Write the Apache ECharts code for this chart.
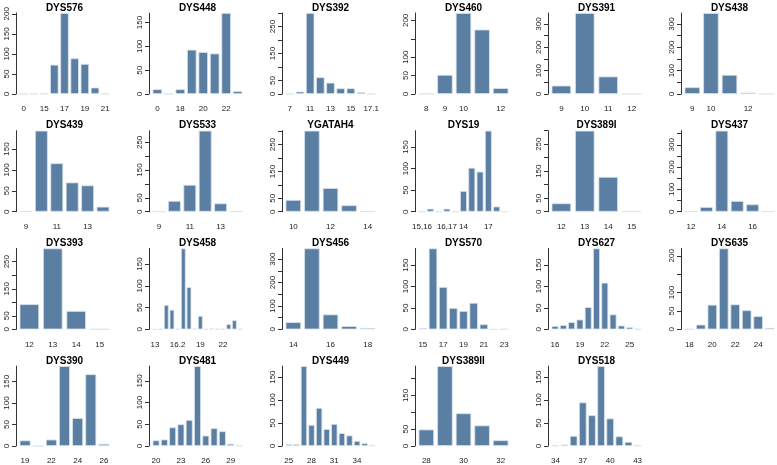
<!DOCTYPE html>
<html>
<head>
<meta charset="utf-8">
<script src="https://cdn.jsdelivr.net/npm/echarts@6/dist/echarts.min.js"></script>
<style>
html, body { margin: 0; background: #fff; }
#chart { width: 777px; height: 465px; }
</style>
</head>
<body>
<div id="chart"></div>
<script>
// marker names, one panel each (6 per row)
const markers = ['DYS576', 'DYS448', 'DYS392', 'DYS460', 'DYS391', 'DYS438',
  'DYS439', 'DYS533', 'YGATAH4', 'DYS19', 'DYS389I', 'DYS437',
  'DYS393', 'DYS458', 'DYS456', 'DYS570', 'DYS627', 'DYS635',
  'DYS390', 'DYS481', 'DYS449', 'DYS389II', 'DYS518'];

// alleles (bar names) per marker
const alleles = [
  ['0', '14', '15', '16', '17', '18', '19', '20', '21'],
  ['0', '17', '18', '19', '20', '21', '22', '23'],
  ['7', '10', '11', '12', '13', '14', '15', '16', '17.1'],
  ['8', '9', '10', '11', '12'],
  ['9', '10', '11', '12'],
  ['9', '10', '11', '12', '13'],
  ['9', '10', '11', '12', '13', '14'],
  ['9', '10', '11', '12', '13', '14'],
  ['10', '11', '12', '13', '14'],
  ['15,16', '13', '15,17', '16,17', '17,18', '14', '15', '16', '17', '18', '19'],
  ['12', '13', '14', '15'],
  ['12', '13', '14', '15', '16', '17'],
  ['12', '13', '14', '15'],
  ['13', '14', '15', '16', '16.2', '17', '18', '18.2', '19', '19.2', '20', '21', '22', '23', '24', '25'],
  ['14', '15', '16', '17', '18'],
  ['15', '16', '17', '18', '19', '20', '21', '22', '23'],
  ['16', '17', '18', '19', '20', '21', '22', '23', '24', '25', '26'],
  ['18', '19', '20', '21', '22', '23', '24', '25'],
  ['19', '21', '22', '23', '24', '25', '26'],
  ['20', '21', '22', '23', '24', '25', '26', '27', '28', '29', '30'],
  ['25', '26', '27', '28', '29', '30', '31', '32', '33', '34', '35', '36'],
  ['28', '29', '30', '31', '32'],
  ['34', '35', '36', '37', '38', '39', '40', '41', '42', '43']
];

// counts per allele
const counts = [
  [0, 1, 1, 73, 202, 89, 75, 16, 1],
  [10, 0, 10, 93, 88, 85, 170, 6],
  [1, 9, 300, 62, 42, 21, 21, 7, 1],
  [1, 52, 220, 175, 16],
  [36, 347, 75, 1],
  [29, 347, 82, 6, 1],
  [1, 194, 116, 70, 63, 12],
  [1, 39, 97, 292, 30, 1],
  [44, 302, 88, 24, 1],
  [0, 7, 0, 7, 0, 48, 102, 93, 188, 12, 0],
  [31, 300, 129, 2],
  [1, 21, 363, 48, 33, 1],
  [93, 299, 68, 1],
  [0, 1, 56, 45, 1, 186, 97, 2, 31, 1, 2, 1, 1, 12, 21, 1],
  [31, 346, 64, 14, 6],
  [3, 189, 99, 50, 43, 62, 12, 0, 1],
  [8, 10, 17, 23, 52, 189, 109, 35, 9, 5, 1],
  [1, 13, 67, 220, 68, 52, 36, 4],
  [13, 0, 15, 186, 65, 167, 5],
  [13, 15, 43, 50, 60, 184, 24, 41, 34, 5, 1],
  [4, 4, 174, 46, 83, 37, 48, 28, 23, 11, 6, 1],
  [49, 237, 97, 61, 17],
  [1, 3, 22, 95, 67, 174, 60, 21, 9, 1]
];

// x labels that are printed (the rest are skipped, as in the original)
const xLabels = [
  ['0', '15', '17', '19', '21'],
  ['0', '18', '20', '22'],
  ['7', '11', '13', '15', '17.1'],
  ['8', '9', '10', '12'],
  ['9', '10', '11', '12'],
  ['9', '10', '12'],
  ['9', '11', '13'],
  ['9', '11', '13'],
  ['10', '12', '14'],
  ['15,16', '16,17', '14', '17'],
  ['12', '13', '14', '15'],
  ['12', '14', '16'],
  ['12', '13', '14', '15'],
  ['13', '16.2', '19', '22'],
  ['14', '16', '18'],
  ['15', '17', '19', '21', '23'],
  ['16', '19', '22', '25'],
  ['18', '20', '22', '24'],
  ['19', '22', '24', '26'],
  ['20', '23', '26', '29'],
  ['25', '28', '31', '34'],
  ['28', '30', '32'],
  ['34', '37', '40', '43']
];

// y labels that are printed; ticks every 50
const yLabels = [
  [0, 50, 100, 150, 200],
  [0, 50, 100, 150],
  [0, 50, 150, 250],
  [0, 50, 100, 200],
  [0, 100, 200, 300],
  [0, 100, 200, 300],
  [0, 50, 100, 150],
  [0, 50, 150, 250],
  [0, 50, 150, 250],
  [0, 50, 100, 150],
  [0, 50, 150, 250],
  [0, 100, 200, 300],
  [0, 50, 150, 250],
  [0, 50, 100, 150],
  [0, 100, 200, 300],
  [0, 50, 100, 150],
  [0, 50, 100, 150],
  [0, 50, 100, 200],
  [0, 50, 100, 150],
  [0, 50, 100, 150],
  [0, 50, 100, 150],
  [0, 50, 150],
  [0, 50, 100, 150]
];
const yStep = 50;

const chart = echarts.init(document.getElementById('chart'));

// layout like R's par(mfrow = c(4, 6)) + barplot
const colLeft = c => 16 + 133 * c;
const PLOT_W = 97;
const rowBase = r => 94 + 117.7 * r;
const PLOT_H = 81;
const FONT = 'Liberation Sans, Arial, Helvetica, sans-serif';

let grid = [], xAxis = [], yAxis = [], series = [], title = [];

markers.forEach(function (name, i) {
  let c = i % 6, r = Math.floor(i / 6);
  let n = alleles[i].length;
  let r0 = 1.2 * n - 0.2;              // width of bars + spaces in user units
  let ppu = PLOT_W / (1.08 * r0);      // 4% padding each side
  let L = colLeft(c);
  let left = L + (0.04 * r0 - 0.1) * ppu;
  let top = rowBase(r) - PLOT_H;
  let ymax = Math.max.apply(null, counts[i]);
  let ticks = [];
  for (let v = 0; v <= ymax; v += yStep) ticks.push(v);

  grid.push({ left: left, top: top, width: 1.2 * n * ppu, height: PLOT_H });

  title.push({
    text: name,
    left: L + PLOT_W / 2,
    top: top - 10,
    textAlign: 'center',
    padding: 0,
    textStyle: { fontFamily: FONT, fontSize: 10, fontWeight: 'bold', color: '#000' }
  });

  xAxis.push({
    type: 'category',
    gridIndex: i,
    data: alleles[i],
    axisLine: { show: false },
    axisTick: { show: false },
    axisLabel: {
      interval: function (idx, val) { return xLabels[i].indexOf(val) >= 0; },
      hideOverlap: false,
      margin: 11,
      fontFamily: FONT,
      fontSize: 8,
      color: '#222'
    }
  });

  yAxis.push({
    type: 'value',
    gridIndex: i,
    min: 0,
    max: ymax,
    offset: left - L,
    splitLine: { show: false },
    axisLine: { show: true, lineStyle: { color: '#333', width: 1 } },
    axisTick: { show: true, length: 4, customValues: ticks, lineStyle: { color: '#333' } },
    axisLabel: {
      customValues: yLabels[i],
      rotate: 90,
      margin: 5,
      fontFamily: FONT,
      fontSize: 8,
      color: '#222'
    }
  });

  series.push({
    type: 'bar',
    xAxisIndex: i,
    yAxisIndex: i,
    data: counts[i],
    barCategoryGap: '16.7%',
    silent: true,
    itemStyle: { color: '#5b7fa3', borderColor: '#d8e3ee', borderWidth: 0.8 }
  });
});

chart.setOption({
  animation: false,
  title: title,
  grid: grid,
  xAxis: xAxis,
  yAxis: yAxis,
  series: series
});

window.addEventListener('resize', function () { chart.resize(); });
</script>
</body>
</html>
